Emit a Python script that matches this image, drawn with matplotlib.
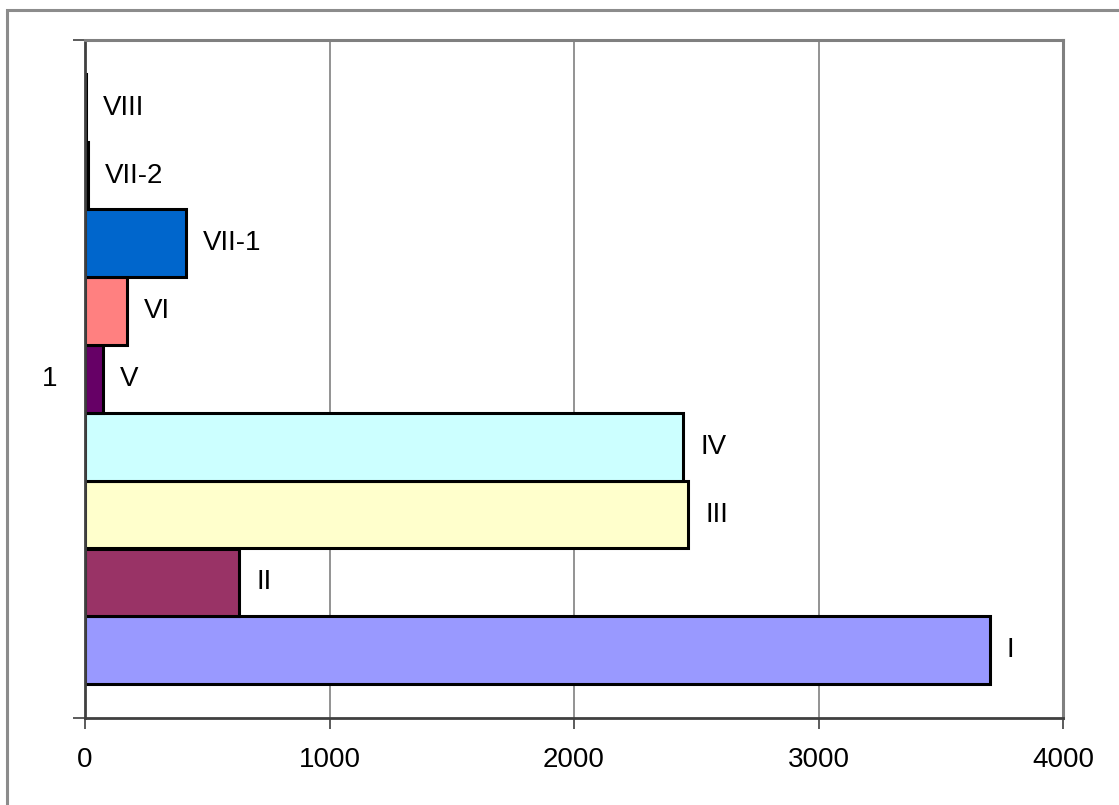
import matplotlib
matplotlib.use("Agg")
import matplotlib.pyplot as plt
from matplotlib.patches import Rectangle

plt.rcParams['font.family'] = ['Liberation Sans', 'DejaVu Sans']

labels = ["I", "II", "III", "IV", "V", "VI", "VII-1", "VII-2", "VIII"]
values = [3700, 630, 2466, 2446, 74, 172, 413, 11, 5]
colors = ["#9999FF", "#993366", "#FFFFCC", "#CCFFFF", "#660066", "#FF8080", "#0066CC", "#CCCCFF", "#000080"]
category = ["1"]
xticks = [0, 1000, 2000, 3000, 4000]

W, H = 1119, 805
fig = plt.figure(figsize=(W / 100, H / 100), dpi=100)
fig.patch.set_facecolor("white")

# outer chart border (extends past the image on right/bottom)
fig.patches.append(Rectangle((7 / W, -0.05), 1.2, 1 - 10 / H + 0.05, transform=fig.transFigure,
                             fill=False, edgecolor="#8c8c8c", linewidth=2.2, zorder=0))

left, right, top, bottom = 85, 1063, 40, 718
ax = fig.add_axes([left / W, 1 - bottom / H, (right - left) / W, (bottom - top) / H])

FS = 20
n = len(values)
bh = 0.9 / n
for i, (lab, v, c) in enumerate(zip(labels, values, colors)):
    y = -0.45 + bh * (i + 0.5)
    ax.barh(y, v, height=bh, color=c, edgecolor="black", linewidth=2.2, zorder=3)
    ax.text(v + 70, y, lab, va="center", ha="left", fontsize=FS, color="black", zorder=4)

ax.set_xlim(0, 4000)
ax.set_ylim(-0.5, 0.5)
ax.set_xticks(xticks)
ax.set_xticklabels([str(t) for t in xticks], fontsize=FS)
ax.set_yticks([-0.5, 0.5], minor=False)
ax.set_yticklabels(["", ""])
ax.text(-0.028, 0.5, category[0], transform=ax.transAxes, ha="right", va="center", fontsize=FS)

ax.grid(axis="x", color="#808080", linewidth=1.2, zorder=1)
ax.tick_params(axis="x", direction="out", length=8, width=1.2, color="#404040", pad=13)
ax.tick_params(axis="y", direction="out", length=9, width=1.2, color="#404040")
for s in ["top", "right"]:
    ax.spines[s].set_color("#808080")
    ax.spines[s].set_linewidth(2.2)
ax.spines["left"].set_color("#404040")
ax.spines["left"].set_linewidth(2)
ax.spines["bottom"].set_color("#404040")
ax.spines["bottom"].set_linewidth(2)
for s in ax.spines.values():
    s.set_zorder(5)

fig.savefig("out.png", dpi=100, facecolor="white")
